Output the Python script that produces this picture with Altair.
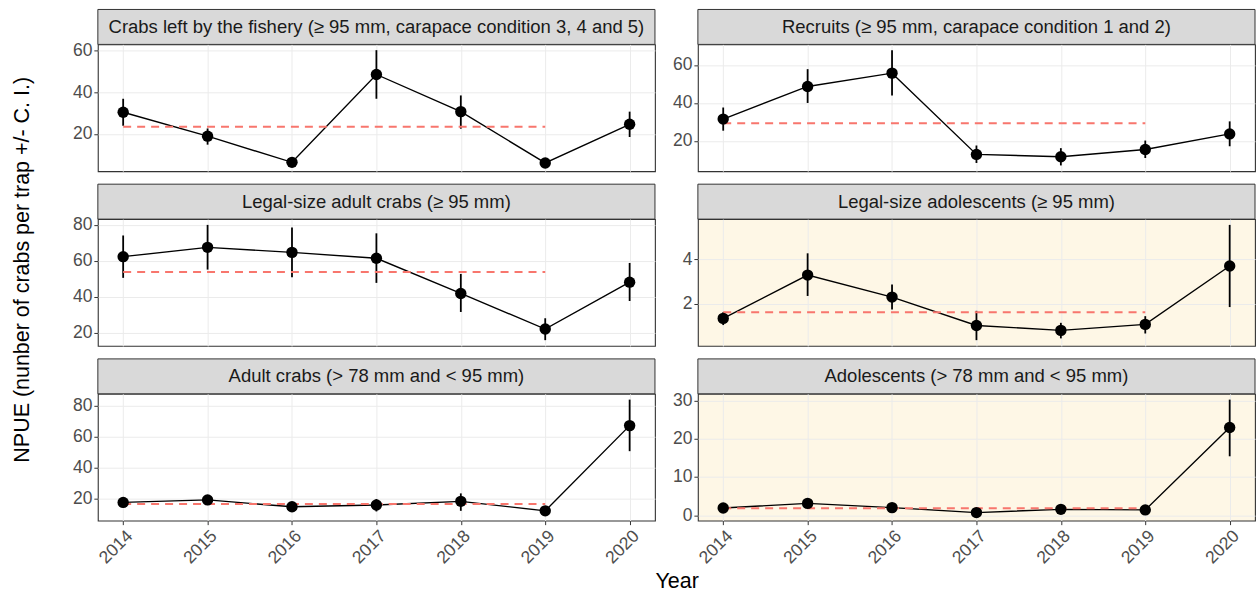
import altair as alt
import pandas as pd

years = [2014, 2015, 2016, 2017, 2018, 2019, 2020]

titles = [
    "Crabs left by the fishery (≥ 95 mm, carapace condition 3, 4 and 5)",
    "Recruits (≥ 95 mm, carapace condition 1 and 2)",
    "Legal-size adult crabs (≥ 95 mm)",
    "Legal-size adolescents (≥ 95 mm)",
    "Adult crabs (> 78 mm and < 95 mm)",
    "Adolescents (> 78 mm and < 95 mm)",
]

# Crabs left by the fishery
left_npue = [30.4, 18.9, 6.3, 48.6, 30.7, 6.0, 24.6]
left_lo = [23.9, 14.8, 4.9, 36.9, 22.5, 4.8, 18.5]
left_hi = [36.9, 22.6, 7.8, 60.3, 38.5, 7.2, 30.7]
left_mean = 23.4
left_ticks = [20, 40, 60]

# Recruits
recr_npue = [31.5, 48.7, 55.7, 12.9, 11.7, 15.5, 23.7]
recr_lo = [25.4, 40.0, 43.9, 8.4, 7.1, 11.0, 17.2]
recr_hi = [37.6, 57.8, 67.8, 17.6, 16.2, 20.2, 30.3]
recr_mean = 29.3
recr_ticks = [20, 40, 60]

# Legal-size adult crabs
lad_npue = [62.3, 67.5, 64.7, 61.4, 41.8, 22.0, 48.1]
lad_lo = [50.5, 55.1, 50.9, 47.7, 31.5, 15.8, 37.6]
lad_hi = [74.1, 80.0, 78.5, 75.3, 52.7, 28.0, 58.8]
lad_mean = 53.7
lad_ticks = [20, 40, 60, 80]

# Legal-size adolescents
lado_npue = [1.34, 3.29, 2.30, 1.02, 0.80, 1.07, 3.70]
lado_lo = [1.04, 2.35, 1.74, 0.36, 0.44, 0.66, 1.85]
lado_hi = [1.62, 4.27, 2.87, 1.68, 1.14, 1.44, 5.55]
lado_mean = 1.62
lado_ticks = [2, 4]

# Adult crabs (78-95 mm)
ad_npue = [17.8, 19.4, 15.0, 16.1, 18.5, 12.4, 67.1]
ad_lo = [14.6, 16.1, 12.0, 12.0, 12.4, 9.8, 50.7]
ad_hi = [21.0, 22.2, 17.8, 20.0, 23.6, 15.2, 83.8]
ad_mean = 16.8
ad_ticks = [20, 40, 60, 80]

# Adolescents (78-95 mm)
ado_npue = [1.9, 3.1, 2.0, 0.7, 1.55, 1.4, 22.9]
ado_lo = [0.9, 2.1, 0.95, 0.1, 0.5, 0.5, 15.4]
ado_hi = [2.9, 4.1, 2.9, 1.4, 2.5, 2.2, 30.2]
ado_mean = 1.8
ado_ticks = [0, 10, 20, 30]

panels = [
    (left_npue, left_lo, left_hi, left_mean, left_ticks, False),
    (recr_npue, recr_lo, recr_hi, recr_mean, recr_ticks, False),
    (lad_npue, lad_lo, lad_hi, lad_mean, lad_ticks, False),
    (lado_npue, lado_lo, lado_hi, lado_mean, lado_ticks, True),
    (ad_npue, ad_lo, ad_hi, ad_mean, ad_ticks, False),
    (ado_npue, ado_lo, ado_hi, ado_mean, ado_ticks, True),
]

FONT = "Liberation Sans"
W = 558
PH = 127
SH = 35
GAP = 13
GRID = "#EBEBEB"
BORDER = "#333333"
LABEL = "#4D4D4D"
CREAM = "#FEF7E6"
RED = "#F8766D"
TICKFS = 17.5
STRIPFS = 18.5
TITLEFS = 21.5

x_scale = alt.Scale(domain=[years[0] - 0.05 * (years[-1] - years[0]),
                            years[-1] + 0.05 * (years[-1] - years[0])], nice=False, zero=False)


def make_strip(title, first):
    h = SH if first else SH + GAP
    base = alt.Chart(pd.DataFrame({"label": [title]})).properties(width=W, height=h)
    rect = base.mark_rect(fill="#D9D9D9", stroke=BORDER, strokeWidth=1).encode(
        x=alt.value(0), x2=alt.value(W), y=alt.value(h - SH), y2=alt.value(h))
    text = base.mark_text(fontSize=STRIPFS, color="#1A1A1A", font=FONT, baseline="middle").encode(
        text="label:N", x=alt.value(W / 2), y=alt.value(h - SH / 2))
    return alt.layer(rect, text).properties(
        view=alt.ViewBackground(stroke="transparent", fill="transparent"))


def make_plot(npue, lo, hi, mean, ticks, cream, bottom):
    df = pd.DataFrame({"year": years, "npue": npue, "lo": lo, "hi": hi})
    mdf = pd.DataFrame({"x0": [years[0]], "x1": [years[-2]], "mean": [mean]})
    vmin = min(min(lo), mean)
    vmax = max(max(hi), mean)
    pad = 0.05 * (vmax - vmin)
    y_scale = alt.Scale(domain=[vmin - pad, vmax + pad], nice=False, zero=False)
    if bottom:
        x_axis = alt.Axis(values=years, format="d", labelAngle=-45, labelAlign="right",
                          labelBaseline="top", labelFontSize=TICKFS, labelColor=LABEL,
                          labelFlush=False, labelOverlap=False, labelPadding=2,
                          tickColor=BORDER, tickSize=4, domain=False, grid=True,
                          gridColor=GRID, title=None)
    else:
        x_axis = alt.Axis(values=years, labels=False, ticks=False, domain=False,
                          grid=True, gridColor=GRID, title=None)
    y_axis = alt.Axis(values=ticks, format="d", labelFontSize=TICKFS, labelColor=LABEL,
                      labelFlush=False, labelOverlap=False, labelPadding=2,
                      tickColor=BORDER, tickSize=4, domain=False, grid=True,
                      gridColor=GRID, title=None)
    base = alt.Chart(df)
    err = base.mark_rule(color="black", strokeWidth=1.8).encode(
        x=alt.X("year:Q", scale=x_scale, axis=x_axis),
        y=alt.Y("lo:Q", scale=y_scale, axis=y_axis),
        y2="hi:Q")
    line = base.mark_line(color="black", strokeWidth=1.4).encode(
        x=alt.X("year:Q", scale=x_scale),
        y=alt.Y("npue:Q", scale=y_scale))
    meanl = alt.Chart(mdf).mark_rule(color=RED, strokeWidth=2, strokeDash=[8, 6]).encode(
        x=alt.X("x0:Q", scale=x_scale), x2="x1:Q",
        y=alt.Y("mean:Q", scale=y_scale))
    pts = base.mark_circle(color="black", opacity=1, size=130).encode(
        x=alt.X("year:Q", scale=x_scale),
        y=alt.Y("npue:Q", scale=y_scale))
    return alt.layer(err, line, meanl, pts).properties(
        width=W, height=PH,
        view=alt.ViewBackground(stroke=BORDER, strokeWidth=1.1,
                                fill=CREAM if cream else "white"))


items = []
for row in range(3):
    for col in range(2):
        i = row * 2 + col
        items.append(make_strip(titles[i], row == 0))
    for col in range(2):
        i = row * 2 + col
        npue, lo, hi, mean, ticks, cream = panels[i]
        items.append(make_plot(npue, lo, hi, mean, ticks, cream, row == 2))

grid = alt.concat(
    *items, columns=2, spacing={"row": 0, "column": 43}, align="each", bounds="flush",
    title=alt.TitleParams("NPUE (nunber of crabs per trap +/- C. I.)", orient="left",
                          anchor="middle", fontSize=TITLEFS, font=FONT, color="black",
                          fontWeight="normal", offset=38, dx=18))

chart = alt.hconcat(
    grid,
    title=alt.TitleParams("Year", orient="bottom", anchor="middle", fontSize=TITLEFS,
                          font=FONT, color="black", fontWeight="normal", offset=4, dx=43),
).properties(
    padding={"left": 12, "top": 8, "right": 1, "bottom": 0}
).configure(font=FONT, background="white").configure_view(stroke=BORDER)

chart.save("out.html", embed_options={"renderer": "svg", "actions": False})
